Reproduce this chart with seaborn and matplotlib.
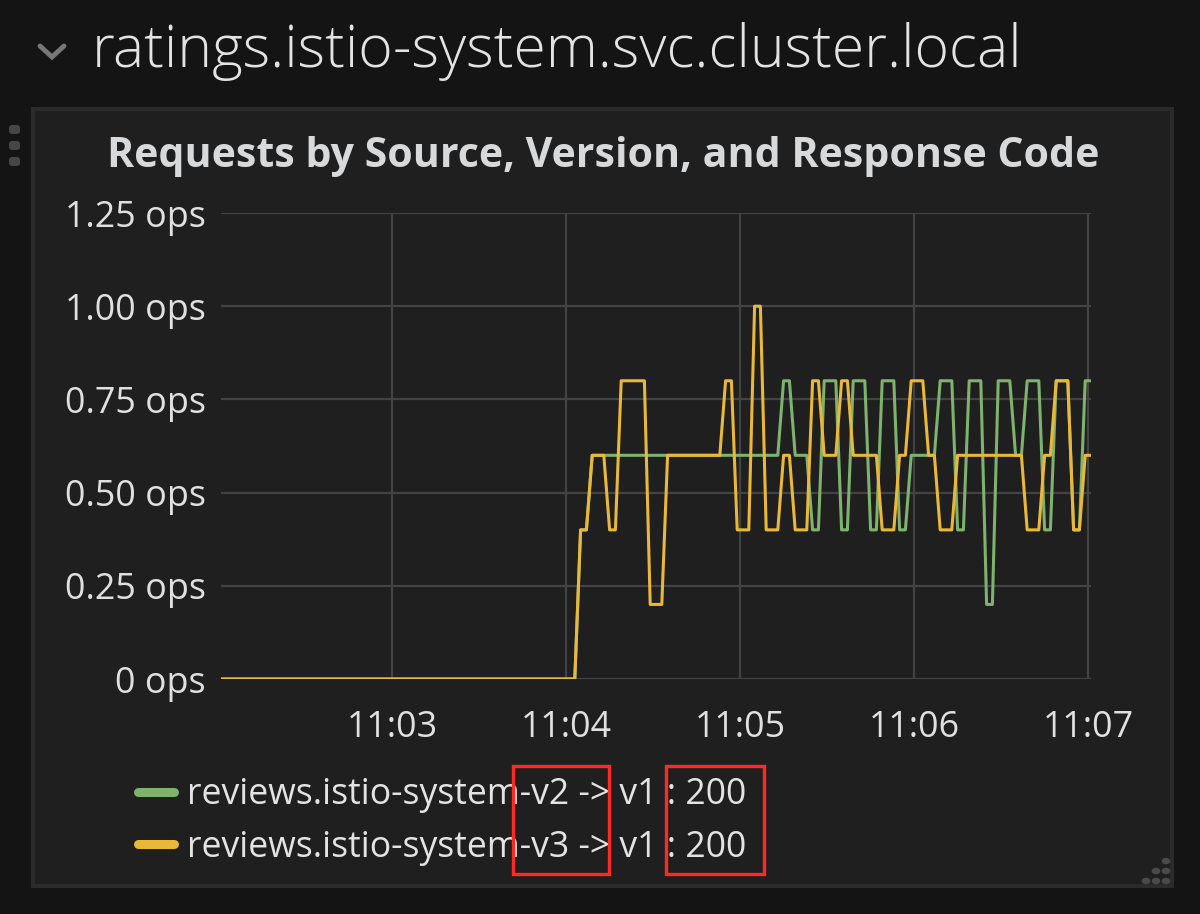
import pandas as pd
import numpy as np
import seaborn as sns
import matplotlib.pyplot as plt
import matplotlib.dates as mdates
from matplotlib.patches import Rectangle, FancyBboxPatch, Circle
from matplotlib.lines import Line2D

# ---- data (one sample every 2 s, 11:02:01 .. 11:07:01) ----
series_names = ["reviews.istio-system-v2 -> v1 : 200",
                "reviews.istio-system-v3 -> v1 : 200"]
series_colors = ["#7eb26d", "#eab839"]

# 11:02:01 .. 11:04:01 both series idle
idle = [0, 0, 0, 0, 0, 0, 0, 0, 0, 0,
        0, 0, 0, 0, 0, 0, 0, 0, 0, 0,
        0, 0, 0, 0, 0, 0, 0, 0, 0, 0,
        0, 0, 0, 0, 0, 0, 0, 0, 0, 0,
        0, 0, 0, 0, 0, 0, 0, 0, 0, 0,
        0, 0, 0, 0, 0, 0, 0, 0, 0, 0,
        0]

# 11:04:03 .. 11:07:01
v2_active = [0, 0.4, 0.4, 0.6, 0.6, 0.6, 0.6, 0.6, 0.6, 0.6,
             0.6, 0.6, 0.6, 0.6, 0.6, 0.6, 0.6, 0.6, 0.6, 0.6,
             0.6, 0.6, 0.6, 0.6, 0.6, 0.6, 0.6, 0.6, 0.6, 0.6,
             0.6, 0.6, 0.6, 0.6, 0.6, 0.6, 0.8, 0.8, 0.6, 0.6,
             0.6, 0.4, 0.4, 0.8, 0.8, 0.8, 0.4, 0.4, 0.8, 0.8,
             0.8, 0.4, 0.4, 0.8, 0.8, 0.8, 0.4, 0.4, 0.6, 0.6,
             0.6, 0.6, 0.6, 0.8, 0.8, 0.8, 0.4, 0.4, 0.8, 0.8,
             0.8, 0.2, 0.2, 0.8, 0.8, 0.8, 0.6, 0.6, 0.8, 0.8,
             0.8, 0.4, 0.4, 0.8, 0.8, 0.8, 0.4, 0.4, 0.8, 0.8]

v3_active = [0, 0.4, 0.4, 0.6, 0.6, 0.6, 0.4, 0.4, 0.8, 0.8,
             0.8, 0.8, 0.8, 0.2, 0.2, 0.2, 0.6, 0.6, 0.6, 0.6,
             0.6, 0.6, 0.6, 0.6, 0.6, 0.6, 0.8, 0.8, 0.4, 0.4,
             0.4, 1.0, 1.0, 0.4, 0.4, 0.4, 0.6, 0.6, 0.4, 0.4,
             0.4, 0.8, 0.8, 0.6, 0.6, 0.6, 0.8, 0.8, 0.6, 0.6,
             0.6, 0.6, 0.6, 0.4, 0.4, 0.4, 0.6, 0.6, 0.8, 0.8,
             0.8, 0.6, 0.6, 0.4, 0.4, 0.4, 0.6, 0.6, 0.6, 0.6,
             0.6, 0.6, 0.6, 0.6, 0.6, 0.6, 0.6, 0.6, 0.4, 0.4,
             0.4, 0.6, 0.6, 0.8, 0.8, 0.8, 0.4, 0.4, 0.6, 0.6]

y_ticks = [0, 0.25, 0.5, 0.75, 1.0, 1.25]
y_tick_labels = ["0 ops", "0.25 ops", "0.50 ops", "0.75 ops", "1.00 ops", "1.25 ops"]
x_ticks = ["11:03", "11:04", "11:05", "11:06", "11:07"]

times = pd.date_range("2018-01-01 11:02:01", "2018-01-01 11:07:01", freq="2s")
df = pd.concat([
    pd.DataFrame({"time": times, "rate": idle + v2_active, "series": series_names[0]}),
    pd.DataFrame({"time": times, "rate": idle + v3_active, "series": series_names[1]}),
])

# ---- style ----
W, H = 1200, 914
sns.set_theme(style="dark")
plt.rcParams["font.family"] = ["Open Sans", "DejaVu Sans"]
text_col = "#d8d9da"
outer_bg = "#141414"
panel_bg = "#1f1f20"


def fx(x):
    return x / W


def fy(y):
    return 1 - y / H


fig = plt.figure(figsize=(W / 100, H / 100), dpi=100, facecolor=outer_bg)

# panel frame
fig.add_artist(Rectangle((fx(33), fy(886)), fx(1172) - fx(33), fy(109) - fy(886),
                         transform=fig.transFigure, facecolor=panel_bg,
                         edgecolor="#2b2b2b", lw=3, zorder=-1))

# row header
fig.text(fx(92), fy(67), "ratings.istio-system.svc.cluster.local", fontsize=42.5,
         fontweight="light", color="#e3e3e3", va="baseline", ha="left")
fig.add_artist(Line2D([fx(40), fx(52), fx(64)], [fy(46), fy(57), fy(46)],
                      transform=fig.transFigure, color="#777777", lw=3.5,
                      solid_capstyle="round", solid_joinstyle="miter"))

# panel drag handle and resize dots
for yy in (125, 141, 157):
    fig.add_artist(FancyBboxPatch((fx(9), fy(yy + 9)), fx(11) - fx(0), fy(0) - fy(9),
                                  boxstyle="round,pad=0,rounding_size=0.003",
                                  transform=fig.transFigure, facecolor="#464646",
                                  edgecolor="none"))
for cx, cy in [(1146, 881), (1156, 871), (1156, 881), (1166, 861), (1166, 871), (1166, 881)]:
    fig.add_artist(Circle((fx(cx), fy(cy)), 4.3 / W, transform=fig.transFigure,
                          facecolor="#4a4a4a", edgecolor="none"))

# panel title
fig.text(fx(603), fy(167), "Requests by Source, Version, and Response Code",
         fontsize=29.6, fontweight="bold", color=text_col, ha="center", va="baseline")

# ---- the graph ----
ax = fig.add_axes([fx(221), fy(679), fx(1091) - fx(221), fy(213) - fy(679)])
ax.set_facecolor(panel_bg)
sns.lineplot(data=df, x="time", y="rate", hue="series", palette=series_colors,
             linewidth=2.2, ax=ax, estimator=None, sort=True)

ax.set_ylim(0, 1.25)
ax.set_xlim(times[0], times[-1])
ax.set_yticks(y_ticks)
ax.set_yticklabels(y_tick_labels)
ax.set_xticks(pd.to_datetime(["2018-01-01 " + t for t in x_ticks]))
ax.xaxis.set_major_formatter(mdates.DateFormatter("%H:%M"))
ax.tick_params(axis="both", length=0, labelsize=25.8, colors="#e0e0e0")
ax.tick_params(axis="y", pad=11)
ax.tick_params(axis="x", pad=22)
ax.grid(True, color="#434343", lw=1.6)
ax.set_axisbelow(True)
for s in ax.spines.values():
    s.set_visible(False)
ax.set_xlabel("")
ax.set_ylabel("")

sns.move_legend(ax, "upper left", bbox_to_anchor=(fx(138), fy(777)),
                bbox_transform=fig.transFigure, frameon=False, title=None,
                fontsize=25.6, handlelength=1.0, handletextpad=0.38,
                labelspacing=0.47, borderaxespad=0, borderpad=0)
leg = ax.get_legend()
for h in leg.legend_handles:
    h.set_linewidth(6.5)
    h.set_solid_capstyle("round")
for t in leg.get_texts():
    t.set_color("#e3e3e3")

# red highlight boxes
for x0, x1 in [(513, 609), (666, 764)]:
    fig.add_artist(Rectangle((fx(x0), fy(874)), fx(x1) - fx(x0), fy(766) - fy(874),
                             transform=fig.transFigure, facecolor="none",
                             edgecolor="#ff2a22", lw=2.4, zorder=10))

fig.savefig("out.png", dpi=100, facecolor=outer_bg)
